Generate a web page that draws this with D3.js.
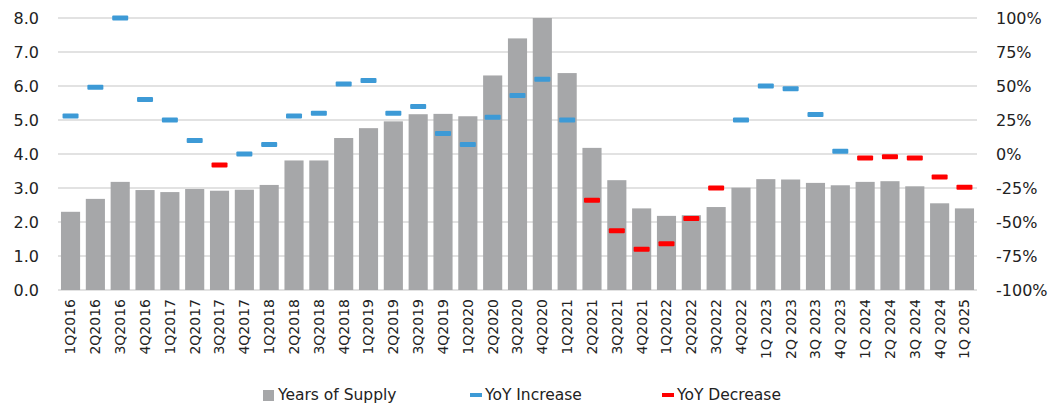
<!DOCTYPE html>
<html>
<head>
<meta charset="utf-8">
<script src="https://cdn.jsdelivr.net/npm/d3@7"></script>
<style>
  body { margin: 0; background: #fff; }
  svg text { font-family: "DejaVu Sans", sans-serif; fill: #222; }
</style>
</head>
<body>
<div id="chart"></div>
<script>
var quarters = ["1Q2016","2Q2016","3Q2016","4Q2016","1Q2017","2Q2017","3Q2017","4Q2017",
  "1Q2018","2Q2018","3Q2018","4Q2018","1Q2019","2Q2019","3Q2019","4Q2019",
  "1Q2020","2Q2020","3Q2020","4Q2020","1Q2021","2Q2021","3Q2021","4Q2021",
  "1Q2022","2Q2022","3Q2022","4Q2022","1Q 2023","2Q 2023","3Q 2023","4Q 2023",
  "1Q 2024","2Q 2024","3Q 2024","4Q 2024","1Q 2025"];

var yearsOfSupply = [2.3,2.68,3.18,2.94,2.88,2.97,2.92,2.95,3.09,3.81,3.81,4.47,
  4.76,4.96,5.17,5.18,5.11,6.31,7.4,8.0,6.38,4.18,3.23,2.4,
  2.18,2.2,2.44,3.01,3.26,3.25,3.15,3.08,3.18,3.2,3.05,2.55,2.4];

// YoY change in %, split into increase / decrease series
var yoyIncrease = [28,49,100,40,25,10,null,0,7,28,30,51.5,
  54,30,35,15,7,27,43,55,25,null,null,null,
  null,null,null,25,50,48,29,2,null,null,null,null,null];
var yoyDecrease = [null,null,null,null,null,null,-8,null,null,null,null,null,
  null,null,null,null,null,null,null,null,null,-34,-56.5,-70,
  -66,-47.5,-25,null,null,null,null,null,-3,-2,-3,-17,-24.5];

var leftTicks = [0,1,2,3,4,5,6,7,8];
var rightTicks = [-100,-75,-50,-25,0,25,50,75,100];

var width = 1050, height = 406;
var margin = {top: 18, right: 73, bottom: 116, left: 58};
var plotW = width - margin.left - margin.right,
    plotH = height - margin.top - margin.bottom;

var svg = d3.select("#chart").append("svg")
    .attr("width", width)
    .attr("height", height);

var g = svg.append("g")
    .attr("transform", "translate(" + margin.left + "," + margin.top + ")");

var x = d3.scaleBand()
    .domain(quarters)
    .range([0, plotW])
    .paddingInner(0.23)
    .paddingOuter(0.12);

var y = d3.scaleLinear().domain([0, 8]).range([plotH, 0]);
var y2 = d3.scaleLinear().domain([-100, 100]).range([plotH, 0]);

// gridlines
g.append("g")
  .selectAll("line")
  .data(leftTicks)
  .join("line")
    .attr("x1", 0)
    .attr("x2", plotW)
    .attr("y1", function(d) { return y(d); })
    .attr("y2", function(d) { return y(d); })
    .style("stroke", "#d9d9d9")
    .style("stroke-width", 1.5);

// left axis
var yAxis = d3.axisLeft(y).tickValues(leftTicks).tickFormat(d3.format(".1f")).tickSize(0).tickPadding(19);
g.append("g")
    .call(yAxis)
    .call(function(s) { s.select(".domain").remove(); })
    .selectAll("text")
    .style("font-size", "16px");

// right axis
var yAxis2 = d3.axisRight(y2).tickValues(rightTicks).tickFormat(function(d) { return d + "%"; }).tickSize(0).tickPadding(19);
g.append("g")
    .attr("transform", "translate(" + plotW + ",0)")
    .call(yAxis2)
    .call(function(s) { s.select(".domain").remove(); })
    .selectAll("text")
    .style("font-size", "16px");

// bars
g.append("g")
  .selectAll("rect")
  .data(yearsOfSupply)
  .join("rect")
    .attr("x", function(d, i) { return x(quarters[i]); })
    .attr("y", function(d) { return y(d); })
    .attr("width", x.bandwidth())
    .attr("height", function(d) { return plotH - y(d); })
    .style("fill", "#a6a7a9");

// x axis labels
var xAxis = d3.axisBottom(x).tickSize(0).tickPadding(0);
g.append("g")
    .attr("transform", "translate(0," + plotH + ")")
    .call(xAxis)
    .call(function(s) { s.select(".domain").remove(); })
    .selectAll("text")
    .attr("transform", "rotate(-90)")
    .attr("x", -9)
    .attr("y", 0)
    .attr("dy", "0.35em")
    .style("text-anchor", "end")
    .style("font-size", "14px");

// YoY markers
function markers(values, color) {
  var pts = values.map(function(v, i) { return {q: quarters[i], v: v}; })
    .filter(function(d) { return d.v !== null; });
  g.append("g")
    .selectAll("rect")
    .data(pts)
    .join("rect")
      .attr("x", function(d) { return x(d.q) + x.bandwidth() / 2 - 8; })
      .attr("y", function(d) { return y2(d.v) - 2.5; })
      .attr("width", 16)
      .attr("height", 5)
      .attr("rx", 1)
      .style("fill", color);
}
markers(yoyIncrease, "#3d9ad6");
markers(yoyDecrease, "#ff0000");

// legend
var legend = svg.append("g").attr("transform", "translate(0,395)");
var items = [
  {label: "Years of Supply", x: 263, kind: "box", color: "#a6a7a9"},
  {label: "YoY Increase", x: 470, kind: "dash", color: "#3d9ad6"},
  {label: "YoY Decrease", x: 662, kind: "dash", color: "#ff0000"}
];
items.forEach(function(it) {
  if (it.kind === "box") {
    legend.append("rect").attr("x", it.x).attr("y", -5).attr("width", 11).attr("height", 11).style("fill", it.color);
  } else {
    legend.append("rect").attr("x", it.x).attr("y", -2).attr("width", 12).attr("height", 4).style("fill", it.color);
  }
  legend.append("text")
    .attr("x", it.x + 15)
    .attr("y", 0)
    .attr("dy", "0.35em")
    .style("font-size", "15.5px")
    .text(it.label);
});
</script>
</body>
</html>
